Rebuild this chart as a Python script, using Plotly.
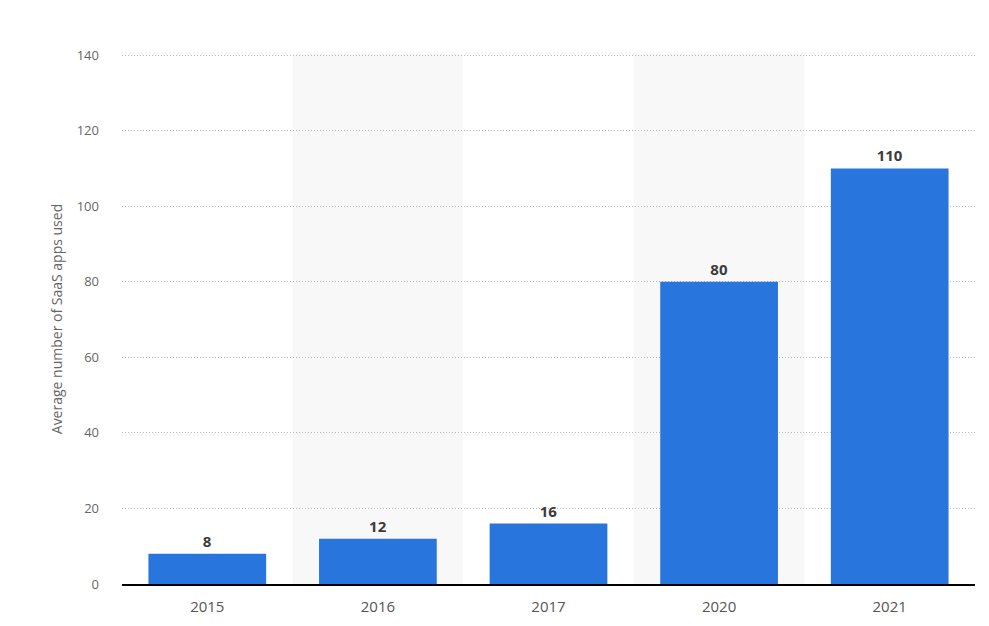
import plotly.graph_objs as go

years = ["2015", "2016", "2017", "2020", "2021"]
apps_used = [8, 12, 16, 80, 110]
y_ticks = [0, 20, 40, 60, 80, 100, 120, 140]

fig = go.Figure()

# alternating light column bands behind 2016 and 2020
for i, year in enumerate(years):
    if i % 2 == 1:
        fig.add_shape(type="rect", xref="x", yref="paper",
                      x0=i - 0.5, x1=i + 0.5, y0=0, y1=1,
                      fillcolor="#f8f8f8", line_width=0, layer="below")

fig.add_trace(go.Bar(
    x=years,
    y=apps_used,
    marker_color="#2876dd",
    marker_line_width=0,
    text=[str(v) for v in apps_used],
    textposition="outside",
    textfont=dict(family="Open Sans", size=15, color="#3c3c3c"),
    texttemplate="<b>%{text}</b>",
    cliponaxis=False,
    hoverinfo="x+y",
))

fig.update_layout(
    width=989, height=626,
    margin=dict(l=114, r=22, t=46, b=50),
    paper_bgcolor="white",
    plot_bgcolor="white",
    bargap=0.31,
    showlegend=False,
    font=dict(family="Open Sans", color="#666666"),
)

fig.update_xaxes(
    type="category",
    showgrid=False,
    showline=True, linecolor="#000000", linewidth=1.5,
    ticks="", tickfont=dict(size=15, color="#555555"),
    ticklabelstandoff=8,
)

fig.update_yaxes(
    range=[0, 140.3],
    tickvals=y_ticks,
    showgrid=True, gridcolor="#bbbbbb", griddash="1px,2px", gridwidth=1,
    zeroline=False, showline=False,
    tickfont=dict(size=13, color="#666666"),
    ticklabelstandoff=22,
    title=dict(text="Average number of SaaS apps used", font=dict(size=14, color="#666666"), standoff=10),
)

fig.write_html("out.html")
